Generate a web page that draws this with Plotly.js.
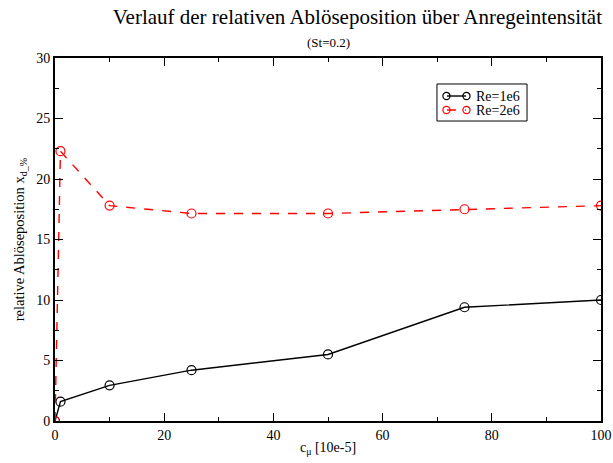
<!DOCTYPE html>
<html><head><meta charset="utf-8">
<script src="https://cdn.plot.ly/plotly-3.0.1.min.js"></script>
<style>body{margin:0;padding:0;background:#fff}#chart{width:613px;height:463px}</style>
</head><body><div id="chart"></div>
<script>
const cmu = [0, 1, 10, 25, 50, 75, 100];
const re1e6 = [0, 1.6, 2.95, 4.2, 5.5, 9.4, 10.0];
const re2e6 = [0, 22.3, 17.8, 17.15, 17.15, 17.5, 17.8];
const seriesNames = ["Re=1e6", "Re=2e6"];
const seriesColors = ["#000000", "#ff0000"];
const seriesDash = ["solid", "dash"];

const font = "Liberation Serif, Times New Roman, serif";
const traces = [re1e6, re2e6].map((ys, i) => ({
  x: cmu, y: ys, name: seriesNames[i], mode: "lines+markers", showlegend: false,
  line: {color: seriesColors[i], width: 1.4, dash: seriesDash[i]},
  marker: {symbol: "circle-open", size: 9, color: seriesColors[i], line: {width: 1.2}}
}));
const axisCommon = {showgrid: false, zeroline: false, showline: true, linecolor: "#000", linewidth: 2,
  mirror: "ticks", ticks: "inside", ticklen: 8, tickwidth: 1, tickcolor: "#000",
  tickfont: {family: font, size: 14, color: "#000"},
  minor: {ticks: "inside", ticklen: 4, tickwidth: 1, tickcolor: "#000"}};

// custom legend box (graph-like style: line with circles at both ends)
const lgX0 = 0.6996, lgX1 = 0.8645, lgY0 = 0.8264, lgY1 = 0.9284;
const rowY = [0.8953, 0.8567];
const shapes = [{type: "rect", xref: "paper", yref: "paper", x0: lgX0, x1: lgX1, y0: lgY0, y1: lgY1,
  line: {color: "#000", width: 1}, fillcolor: "#fff", layer: "above"}];
const annotations = [{text: "(St=0.2)", xref: "paper", yref: "paper", x: 0.5, y: 1.0, yshift: 16,
    xanchor: "center", yanchor: "middle", showarrow: false, font: {family: font, size: 13, color: "#000"}}];
seriesNames.forEach((nm, i) => {
  shapes.push({type: "line", xref: "paper", yref: "paper", xsizemode: "pixel", xanchor: lgX0,
    x0: 10, x1: 29, y0: rowY[i], y1: rowY[i], line: {color: seriesColors[i], width: 1.4, dash: i ? "dash" : "solid"}, layer: "above"});
  [9.5, 29.5].forEach(cx => shapes.push({type: "circle", xref: "paper", yref: "paper",
    xsizemode: "pixel", ysizemode: "pixel", xanchor: lgX0, yanchor: rowY[i],
    x0: cx - 3.6, x1: cx + 3.6, y0: -3.6, y1: 3.6, line: {color: seriesColors[i], width: 1.2}, fillcolor: "rgba(0,0,0,0)", layer: "above"}));
  annotations.push({text: nm, xref: "paper", yref: "paper", x: lgX0, xshift: 38, y: rowY[i],
    xanchor: "left", yanchor: "middle", showarrow: false, borderpad: 0,
    font: {family: font, size: 14, color: "#000"}});
});

const layout = {
  width: 613, height: 463,
  margin: {l: 55, r: 12, t: 58, b: 42},
  paper_bgcolor: "#fff", plot_bgcolor: "#fff",
  font: {family: font, color: "#000"},
  title: {text: "Verlauf der relativen Ablöseposition über Anregeintensität",
    font: {family: font, size: 21, color: "#000"}, x: 0.583, xanchor: "center", y: 0.963, yanchor: "middle"},
  annotations: annotations,
  shapes: shapes,
  xaxis: Object.assign({}, axisCommon, {range: [0, 100], dtick: 20, minor: Object.assign({}, axisCommon.minor, {dtick: 10}),
    title: {text: "c<sub>μ</sub> [10e-5]", font: {family: font, size: 14, color: "#000"}, standoff: 0}}),
  yaxis: Object.assign({}, axisCommon, {range: [0, 30], dtick: 5, minor: Object.assign({}, axisCommon.minor, {dtick: 2.5}),
    title: {text: "relative Ablöseposition x<sub>d_%</sub>", font: {family: font, size: 14.5, color: "#000"}, standoff: 8}}),
  showlegend: false
};
Plotly.newPlot("chart", traces, layout, {displayModeBar: false});
</script></body></html>
